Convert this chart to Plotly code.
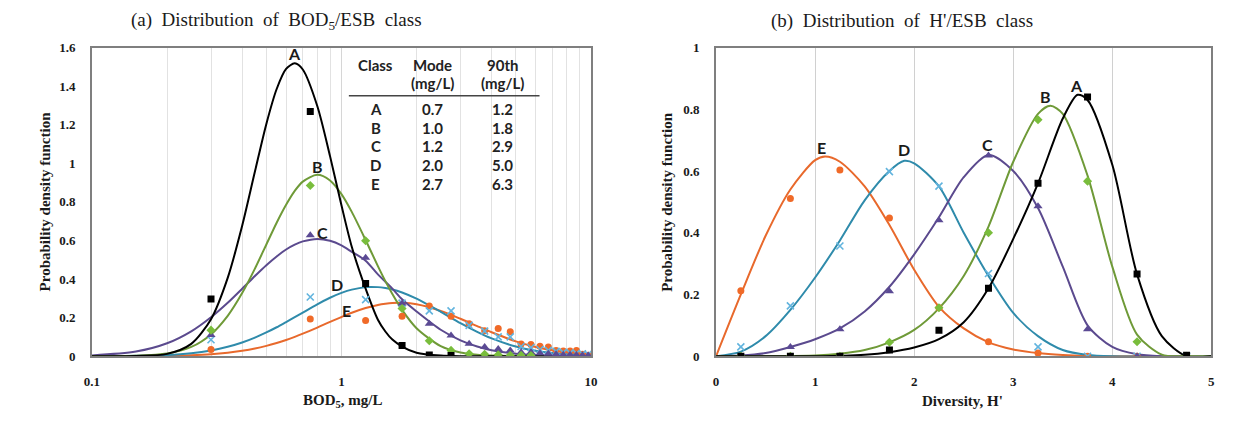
import plotly.graph_objects as go
import math

# ---------------- data: panel (a) BOD5 ----------------
bod_grid = [0.1, 0.15, 0.2, 0.25, 0.3, 0.35, 0.4, 0.45, 0.5, 0.55, 0.6, 0.65, 0.7, 0.8, 0.9,
            1.0, 1.1, 1.25, 1.4, 1.5, 1.6, 1.75, 2.0, 2.5, 3.0, 3.5, 4.0, 5.0, 6.0, 7.0, 8.0, 10.0]
bod_curve_A = [0.0, 0.001, 0.012, 0.064, 0.192, 0.406, 0.676, 0.957, 1.204, 1.385, 1.489, 1.518, 1.486, 1.297, 1.037,
               0.782, 0.567, 0.35, 0.189, 0.128, 0.086, 0.05, 0.018, 0.003, 0.0, 0.0, 0.0, 0.0, 0.0, 0.0, 0.0, 0.0]
bod_curve_B = [0.0, 0.002, 0.0135, 0.048, 0.113, 0.209, 0.327, 0.454, 0.579, 0.692, 0.785, 0.857, 0.905, 0.94, 0.911,
               0.84, 0.748, 0.602, 0.467, 0.389, 0.322, 0.24, 0.145, 0.052, 0.019, 0.007, 0.003, 0.0005, 0.0, 0.0, 0.0, 0.0]
bod_curve_C = [0.004, 0.024, 0.067, 0.129, 0.202, 0.277, 0.35, 0.416, 0.472, 0.517, 0.553, 0.578, 0.595, 0.608, 0.598,
               0.574, 0.541, 0.495, 0.424, 0.386, 0.35, 0.295, 0.232, 0.137, 0.082, 0.05, 0.031, 0.013, 0.006, 0.003, 0.0013, 0.0003]
bod_curve_D = [0.0002, 0.0017, 0.0064, 0.0157, 0.03, 0.0488, 0.071, 0.0964, 0.123, 0.15, 0.177, 0.202, 0.226, 0.269, 0.303,
               0.328, 0.345, 0.358, 0.358, 0.353, 0.346, 0.33, 0.298, 0.23, 0.171, 0.126, 0.092, 0.05, 0.028, 0.016, 0.01, 0.004]
bod_curve_E = [0.0, 0.0004, 0.0018, 0.0049, 0.01, 0.0179, 0.028, 0.0398, 0.0535, 0.0684, 0.084, 0.1004, 0.1167, 0.1484, 0.178,
               0.203, 0.225, 0.2495, 0.2657, 0.272, 0.2758, 0.2766, 0.269, 0.235, 0.194, 0.156, 0.124, 0.077, 0.048, 0.031, 0.02, 0.009]

bod_obs_x = [0.3, 0.75, 1.25, 1.75, 2.25, 2.75, 3.25, 3.75, 4.25, 4.75, 5.25, 5.75,
             6.25, 6.75, 7.25, 7.75, 8.25, 8.75, 9.25, 9.75]
bod_obs_A = [0.297, 1.268, 0.377, 0.055, 0.006, 0.003]
bod_obs_B = [0.135, 0.885, 0.598, 0.247, 0.08, 0.03, 0.013, 0.01, 0.007, 0.005, 0.004, 0.003]
bod_obs_C = [0.11, 0.627, 0.51, 0.273, 0.168, 0.107, 0.065, 0.048, 0.037, 0.03, 0.02, 0.02,
             0.015, 0.013, 0.01, 0.008, 0.007, 0.006, 0.005, 0.004]
bod_obs_D = [0.085, 0.307, 0.293, 0.275, 0.235, 0.235, 0.16, 0.13, 0.1, 0.1, 0.05, 0.045,
             0.035, 0.03, 0.025, 0.02, 0.017, 0.015, 0.012, 0.01]
bod_obs_E = [0.035, 0.193, 0.185, 0.207, 0.26, 0.207, 0.168, 0.132, 0.143, 0.127, 0.063, 0.06,
             0.052, 0.048, 0.03, 0.027, 0.027, 0.03, 0.01, 0.005]

table_class = ["A", "B", "C", "D", "E"]
table_mode = ["0.7", "1.0", "1.2", "2.0", "2.7"]
table_p90 = ["1.2", "1.8", "2.9", "5.0", "6.3"]

# ---------------- data: panel (b) H' ----------------
h_curve_A_x = [0, 1.0, 1.5, 1.75, 2.0, 2.25, 2.5, 2.75, 3.0, 3.25, 3.5, 3.65, 3.75, 4.0, 4.25, 4.5, 4.75, 5.0]
h_curve_A_y = [0, 0, 0.005, 0.013, 0.028, 0.055, 0.11, 0.22, 0.38, 0.56, 0.77, 0.847, 0.83, 0.62, 0.265, 0.065, 0, 0]
h_curve_B_x = [0, 0.5, 1.0, 1.25, 1.5, 1.75, 2.0, 2.25, 2.5, 2.75, 3.0, 3.25, 3.375, 3.5, 3.75, 4.0, 4.25, 4.5, 4.75, 5.0]
h_curve_B_y = [0, 0, 0.002, 0.008, 0.02, 0.045, 0.085, 0.155, 0.26, 0.42, 0.63, 0.785, 0.811, 0.785, 0.585, 0.29, 0.07, 0.005, 0, 0]
h_curve_C_x = [0, 0.25, 0.5, 0.75, 1.0, 1.25, 1.5, 1.75, 2.0, 2.25, 2.5, 2.75, 3.0, 3.25, 3.5, 3.75, 4.0, 4.25, 4.5, 5.0]
h_curve_C_y = [0, 0.002, 0.01, 0.03, 0.055, 0.09, 0.145, 0.225, 0.33, 0.45, 0.58, 0.652, 0.6, 0.48, 0.29, 0.1, 0.03, 0.006, 0, 0]
h_curve_D_x = [0, 0.25, 0.5, 0.75, 1.0, 1.25, 1.5, 1.75, 1.9, 2.0, 2.25, 2.5, 2.75, 3.0, 3.25, 3.5, 3.75, 4.0, 5.0]
h_curve_D_y = [0, 0.015, 0.065, 0.15, 0.255, 0.375, 0.505, 0.6, 0.633, 0.625, 0.55, 0.4, 0.26, 0.14, 0.065, 0.02, 0.004, 0, 0]
h_curve_E_x = [0, 0.25, 0.5, 0.75, 1.0, 1.1, 1.25, 1.5, 1.75, 2.0, 2.25, 2.5, 2.75, 3.0, 3.25, 3.5, 3.75, 4.0, 5.0]
h_curve_E_y = [0, 0.2, 0.39, 0.54, 0.635, 0.647, 0.63, 0.55, 0.425, 0.28, 0.16, 0.09, 0.045, 0.022, 0.01, 0.004, 0.001, 0, 0]

h_obs_x = [0.25, 0.75, 1.25, 1.75, 2.25, 2.75, 3.25, 3.75, 4.25, 4.75]
h_obs_A = [0, 0, 0, 0.02, 0.084, 0.22, 0.56, 0.84, 0.266, 0.003]
h_obs_B = [0, 0, 0, 0.045, 0.157, 0.40, 0.766, 0.567, 0.047, 0]
h_obs_C = [0, 0.03, 0.087, 0.21, 0.44, 0.65, 0.486, 0.087, 0, 0]
h_obs_D = [0.03, 0.163, 0.357, 0.598, 0.551, 0.268, 0.03, 0, 0, 0]
h_obs_E = [0.212, 0.511, 0.603, 0.448, 0.157, 0.047, 0.01, 0, 0, 0]

# label positions (class letters)
bod_label_x = [0.651, 0.80, 0.84, 0.96, 1.045]
bod_label_y = [1.57, 0.985, 0.64, 0.37, 0.235]
h_label_x = [3.64, 3.33, 2.74, 1.90, 1.06]
h_label_y = [0.876, 0.84, 0.687, 0.668, 0.677]

# ---------------- styles ----------------
classes = ["A", "B", "C", "D", "E"]
line_col = {"A": "#000000", "B": "#6f9a38", "C": "#5b4a8e", "D": "#2f8bab", "E": "#e8692c"}
mk_col = {"A": "#000000", "B": "#79bd3c", "C": "#5b4a94", "D": "#62b4de", "E": "#f06a28"}
mk_sym = {"A": "square", "B": "diamond", "C": "triangle-up", "D": "x-thin", "E": "circle"}
mk_size = {"A": 7, "B": 7, "C": 8, "D": 7, "E": 7}

W, H = 1248, 424
fig = go.Figure()

bod_curves = dict(zip(classes, [bod_curve_A, bod_curve_B, bod_curve_C, bod_curve_D, bod_curve_E]))
bod_obs = dict(zip(classes, [bod_obs_A, bod_obs_B, bod_obs_C, bod_obs_D, bod_obs_E]))
h_curves = dict(zip(classes, [(h_curve_A_x, h_curve_A_y), (h_curve_B_x, h_curve_B_y), (h_curve_C_x, h_curve_C_y),
                              (h_curve_D_x, h_curve_D_y), (h_curve_E_x, h_curve_E_y)]))
h_obs = dict(zip(classes, [h_obs_A, h_obs_B, h_obs_C, h_obs_D, h_obs_E]))


def marker_for(c):
    m = dict(symbol=mk_sym[c], size=mk_size[c], color=mk_col[c])
    if c == "D":
        m["line"] = dict(color=mk_col[c], width=1.6)
    else:
        m["line"] = dict(width=0)
    return m


for c in reversed(classes):
    fig.add_trace(go.Scatter(x=bod_grid, y=bod_curves[c], mode="lines", xaxis="x", yaxis="y",
                             line=dict(color=line_col[c], width=2, shape="spline", smoothing=0.8),
                             hoverinfo="skip"))
for c in reversed(classes):
    ys = bod_obs[c]
    fig.add_trace(go.Scatter(x=bod_obs_x[:len(ys)], y=ys, mode="markers", xaxis="x", yaxis="y",
                             marker=marker_for(c)))

for c in reversed(classes):
    hx, hy = h_curves[c]
    fig.add_trace(go.Scatter(x=hx, y=hy, mode="lines", xaxis="x2", yaxis="y2",
                             line=dict(color=line_col[c], width=2, shape="spline", smoothing=0.8),
                             hoverinfo="skip"))
for c in reversed(classes):
    fig.add_trace(go.Scatter(x=h_obs_x, y=h_obs[c], mode="markers", xaxis="x2", yaxis="y2",
                             marker=marker_for(c)))

tick_font = dict(family="Liberation Serif", size=13, color="#1a1a1a", weight="bold")
frame = dict(showline=True, linecolor="#7f7f7f", linewidth=2, mirror=True, ticks="", zeroline=False)
ydom = [1 - 362 / H, 1 - 42 / H]

fig.update_layout(
    width=W, height=H, margin=dict(l=0, r=0, t=0, b=0),
    paper_bgcolor="white", plot_bgcolor="white", showlegend=False,
    xaxis=dict(domain=[85 / W, 590 / W], type="log", range=[-1, 1],
               tickvals=[0.1, 1, 10], ticktext=["0.1", "1", "10"], tickfont=tick_font,
               showgrid=True, gridcolor="#d6d6d6", gridwidth=1, ticklabelstandoff=12,
               minor=dict(tickvals=[0.2, 0.3, 0.4, 0.5, 0.6, 0.7, 0.8, 0.9, 2, 3, 4, 5, 6, 7, 8, 9],
                          showgrid=True, gridcolor="#e2e2e2", gridwidth=1, ticks=""),
               anchor="y", **frame),
    yaxis=dict(domain=ydom, range=[0, 1.6], tickvals=[0, 0.2, 0.4, 0.6, 0.8, 1.0, 1.2, 1.4, 1.6],
               ticktext=["0", "0.2", "0.4", "0.6", "0.8", "1", "1.2", "1.4", "1.6"],
               tickfont=tick_font, showgrid=False, ticklabelstandoff=12, anchor="x", **frame),
    xaxis2=dict(domain=[716.7 / W, 1218 / W], range=[0, 5], tickvals=[0, 1, 2, 3, 4, 5],
                tickfont=tick_font, showgrid=True, gridcolor="#d0d0d0", gridwidth=1,
                ticklabelstandoff=12, anchor="y2", **frame),
    yaxis2=dict(domain=ydom, range=[0, 1], tickvals=[0, 0.2, 0.4, 0.6, 0.8, 1.0],
                ticktext=["0", "0.2", "0.4", "0.6", "0.8", "1"],
                tickfont=tick_font, showgrid=False, ticklabelstandoff=12, anchor="x2", **frame),
)

ann = []
title_font = dict(family="Liberation Serif", size=19, color="#1a1a1a")
sp = "\u00a0\u00a0"
ann.append(dict(text=f"(a){sp}Distribution{sp}of{sp}BOD<sub>5</sub>/ESB{sp}class", x=272 / W, y=1 - 14 / H,
                xref="paper", yref="paper", showarrow=False, font=title_font, xanchor="center", yanchor="middle"))
ann.append(dict(text=f"(b){sp}Distribution{sp}of{sp}H'/ESB{sp}class", x=905 / W, y=1 - 14 / H,
                xref="paper", yref="paper", showarrow=False, font=title_font, xanchor="center", yanchor="middle"))

axt_font = dict(family="Liberation Serif", size=15, color="#1a1a1a", weight="bold")
for px in (37, 667):
    ann.append(dict(text="Probability density function", x=px / W, y=1 - 202 / H, xref="paper", yref="paper",
                    textangle=-90, showarrow=False, font=axt_font, xanchor="center", yanchor="middle"))
ann.append(dict(text="BOD<sub>5</sub>, mg/L", x=339 / W, y=1 - 408 / H, xref="paper", yref="paper",
                showarrow=False, font=axt_font, xanchor="center", yanchor="middle"))
ann.append(dict(text="Diversity, H'", x=966 / W, y=1 - 408 / H, xref="paper", yref="paper",
                showarrow=False, font=axt_font, xanchor="center", yanchor="middle"))

lab_font = dict(family="Lato", size=16, color="#1a1a1a", weight="bold")
for c, lx, ly in zip(classes, bod_label_x, bod_label_y):
    ann.append(dict(text=c, x=math.log10(lx), y=ly, xref="x", yref="y", showarrow=False, font=lab_font,
                    xanchor="center", yanchor="middle"))
for c, lx, ly in zip(classes, h_label_x, h_label_y):
    ann.append(dict(text=c, x=lx, y=ly, xref="x2", yref="y2", showarrow=False, font=lab_font,
                    xanchor="center", yanchor="middle"))

# table inside panel (a)
tab_font = dict(family="Lato", size=15, color="#222222", weight="bold")
col_x = [372, 430, 501]
ann.append(dict(text="Class", x=col_x[0] / W, y=1 - 60 / H, xref="paper", yref="paper", showarrow=False,
                font=tab_font, xanchor="center", yanchor="middle"))
ann.append(dict(text="Mode", x=col_x[1] / W, y=1 - 60 / H, xref="paper", yref="paper", showarrow=False,
                font=tab_font, xanchor="center", yanchor="middle"))
ann.append(dict(text="90th", x=col_x[2] / W, y=1 - 60 / H, xref="paper", yref="paper", showarrow=False,
                font=tab_font, xanchor="center", yanchor="middle"))
for cx in col_x[1:]:
    ann.append(dict(text="(mg/L)", x=cx / W, y=1 - 79 / H, xref="paper", yref="paper", showarrow=False,
                    font=tab_font, xanchor="center", yanchor="middle"))
row_y = [106, 125, 144, 164, 183]
for ry, a, b, c in zip(row_y, table_class, table_mode, table_p90):
    for cx, t in zip(col_x, (a, b, c)):
        ann.append(dict(text=t, x=cx / W, y=1 - ry / H, xref="paper", yref="paper", showarrow=False,
                        font=tab_font, xanchor="center", yanchor="middle"))

fig.update_layout(annotations=ann,
                  shapes=[dict(type="line", xref="paper", yref="paper", x0=345 / W, x1=538 / W,
                               y0=1 - 92 / H, y1=1 - 92 / H, line=dict(color="#444444", width=1.5))])

fig.write_html("out.html")
